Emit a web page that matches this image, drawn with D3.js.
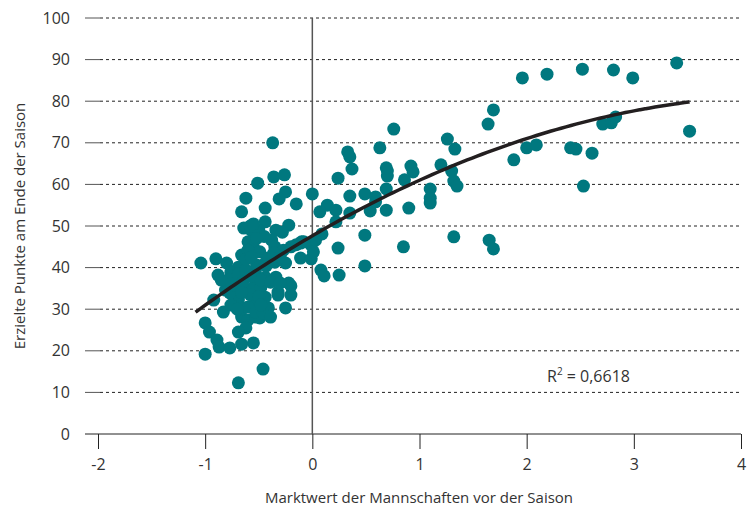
<!DOCTYPE html>
<html><head><meta charset="utf-8">
<script src="https://cdn.jsdelivr.net/npm/d3@7"></script>
<style>html,body{margin:0;padding:0;background:#fff}svg{display:block}</style>
</head><body>
<script>
// Data
const marketValue = [1.96,2.19,2.52,2.81,2.99,3.40,1.69,1.64,2.71,2.79,2.83,3.52,2.00,2.09,2.41,2.46,2.61,1.88,2.53,1.26,1.33,1.20,1.30,0.92,0.94,0.86,1.32,1.35,1.10,1.10,1.10,0.90,1.32,0.85,1.65,1.69,0.76,0.33,0.35,0.63,0.37,0.70,0.70,0.69,0.24,0.69,0.00,0.35,0.49,0.59,0.54,0.59,0.69,0.14,0.07,0.22,0.35,0.22,0.09,0.49,0.24,0.49,0.25,0.08,0.11,-0.11,0.03,-0.01,-0.10,-0.20,-0.11,-0.01,0.01,-0.20,-0.20,-0.22,-0.15,-0.26,-0.37,-0.36,-0.51,-0.25,-0.62,-0.66,-0.31,-0.44,-0.34,-0.44,-0.64,-0.57,-0.50,-0.60,-0.55,-0.38,-0.35,-0.27,-0.15,-0.08,-1.04,-0.90,-0.80,-0.66,-0.69,-0.76,-0.88,-0.78,-0.53,-0.44,-0.34,-0.22,-0.32,-0.32,-0.25,-0.41,-0.92,-0.83,-0.69,-0.76,-0.66,-0.60,-0.53,-0.49,-0.62,-0.69,-1.00,-0.96,-0.89,-0.87,-0.77,-0.66,-0.55,-1.00,-0.46,-0.69,-0.81,-0.77,-0.72,-0.63,-0.55,-0.48,-0.44,-0.53,-0.60,-0.53,-0.46,-0.39,-0.85,-0.75,-0.69,-0.62,-0.55,-0.48,-0.43,-0.25,-0.52,-0.44,-0.60,-0.49,-0.41,-0.35,-0.39,-0.30,-0.62,-0.57,-0.65,-0.58,-0.50,-0.70,-0.36,-0.30,-0.45,-0.52,-0.58,-0.66,-0.48,-0.58,-0.55,-0.28];
const points = [85.6,86.5,87.7,87.5,85.6,89.2,77.9,74.5,74.5,74.8,76.2,72.8,68.8,69.5,68.8,68.5,67.5,65.9,59.6,70.9,68.5,64.7,63.2,64.4,63.0,61.1,60.8,59.6,58.9,56.7,55.5,54.3,47.4,45.0,46.6,44.5,73.3,67.8,66.6,68.8,63.7,63.2,62.0,64.0,61.5,58.9,57.7,57.2,57.7,57.0,53.6,55.8,53.8,55.0,53.4,53.8,53.1,51.0,48.1,47.8,44.7,40.4,38.2,39.4,38.0,45.9,46.6,45.4,46.2,45.0,42.3,42.1,43.8,35.6,33.4,50.2,55.3,62.3,70.0,61.8,60.3,58.2,56.7,53.4,56.5,54.3,49.0,51.0,49.5,49.0,49.0,46.2,45.0,46.6,45.0,44.2,45.5,46.2,41.1,42.1,41.1,43.0,40.1,38.9,38.2,37.0,39.4,37.7,37.7,36.3,34.1,33.4,30.3,30.3,32.2,29.3,32.2,31.0,28.1,27.4,28.1,27.9,25.5,24.5,26.7,24.5,22.6,20.9,20.7,21.6,21.9,19.2,15.6,12.3,34.6,33.9,35.8,34.6,35.3,35.3,32.9,32.2,30.5,29.3,29.1,28.1,37.0,36.2,38.5,39.4,38.0,37.0,40.4,41.1,40.6,41.1,44.2,43.8,42.3,41.3,36.5,36.3,42.0,42.5,36.5,33.5,33.0,30.0,43.5,42.6,47.5,47.0,38.0,34.0,31.0,50.0,50.5,48.5];
const xTicks = [-2,-1,0,1,2,3,4];
const yTicks = [0,10,20,30,40,50,60,70,80,90,100];
const fitCoef = [47.65, 15.02, -1.671]; // quadratic trend: a + b x + c x^2
const fitRange = [-1.09, 3.52];
const r2Text = "0,6618";
const xTitle = "Marktwert der Mannschaften vor der Saison";
const yTitle = "Erzielte Punkte am Ende der Saison";

const W = 755, H = 511;
const svg = d3.select("body").append("svg").attr("width", W).attr("height", H);
const x = d3.scaleLinear().domain([-2, 4]).range([98, 741]);
const y = d3.scaleLinear().domain([0, 100]).range([434, 18]);
const font = "'Open Sans', sans-serif";
const txt = "#333";

// Grid lines
const g = svg.append("g");
yTicks.filter(d => d > 0).forEach(d => {
  g.append("line").attr("x1", 85).attr("x2", 100).attr("y1", y(d)).attr("y2", y(d))
    .attr("stroke", "#555").attr("stroke-width", 1);
  g.append("line").attr("x1", 100).attr("x2", 741).attr("y1", y(d)).attr("y2", y(d))
    .attr("stroke", "#222").attr("stroke-width", 1).attr("stroke-dasharray", "3,3");
});
// zero axis line
g.append("line").attr("x1", 85).attr("x2", 741).attr("y1", y(0)).attr("y2", y(0))
  .attr("stroke", "#222").attr("stroke-width", 1);
// vertical zero line
g.append("line").attr("x1", x(0)).attr("x2", x(0)).attr("y1", y(100)).attr("y2", y(0))
  .attr("stroke", "#555").attr("stroke-width", 1.5);

// X axis ticks
const xAxis = d3.axisBottom(x).tickValues(xTicks).tickSize(15).tickFormat(d => String(d));
const xa = svg.append("g").attr("transform", `translate(0,${y(0)})`).call(xAxis);
xa.select(".domain").remove();
xa.selectAll(".tick line").attr("stroke", "#222");
xa.selectAll(".tick text").attr("font-family", font).attr("font-size", 16).attr("fill", txt).attr("dy", "1.1em");

// Y axis labels
const yAxis = d3.axisLeft(y).tickValues(yTicks).tickSize(0).tickPadding(0);
const ya = svg.append("g").attr("transform", `translate(70,0)`).call(yAxis);
ya.select(".domain").remove();
ya.selectAll(".tick text").attr("font-family", font).attr("font-size", 16).attr("fill", txt);

// Points
svg.append("g").selectAll("circle").data(marketValue.map((v, i) => [v, points[i]]))
  .join("circle").attr("cx", d => x(d[0])).attr("cy", d => y(d[1])).attr("r", 6.5)
  .attr("fill", "#00787F");

// Trend line
const fx = d3.range(0, 101).map(i => fitRange[0] + (fitRange[1] - fitRange[0]) * i / 100);
const line = d3.line().x(d => x(d)).y(d => y(fitCoef[0] + fitCoef[1] * d + fitCoef[2] * d * d)).curve(d3.curveBasis);
svg.append("path").datum(fx).attr("d", line).attr("fill", "none")
  .attr("stroke", "#231f20").attr("stroke-width", 3.5).attr("stroke-linecap", "butt");

// R2 label
const rt = svg.append("text").attr("x", 547).attr("y", 382).attr("font-family", font)
  .attr("font-size", 16).attr("fill", txt);
rt.append("tspan").text("R");
rt.append("tspan").attr("font-size", 10).attr("dy", -7).text("2");
rt.append("tspan").attr("dy", 7).text(" = " + r2Text);

// Titles
svg.append("text").attr("x", 419).attr("y", 503).attr("text-anchor", "middle")
  .attr("font-family", font).attr("font-size", 15).attr("fill", txt).text(xTitle);
svg.append("text").attr("transform", "translate(25,226) rotate(-90)").attr("text-anchor", "middle")
  .attr("font-family", font).attr("font-size", 15).attr("fill", txt).text(yTitle);
</script>
</body></html>
